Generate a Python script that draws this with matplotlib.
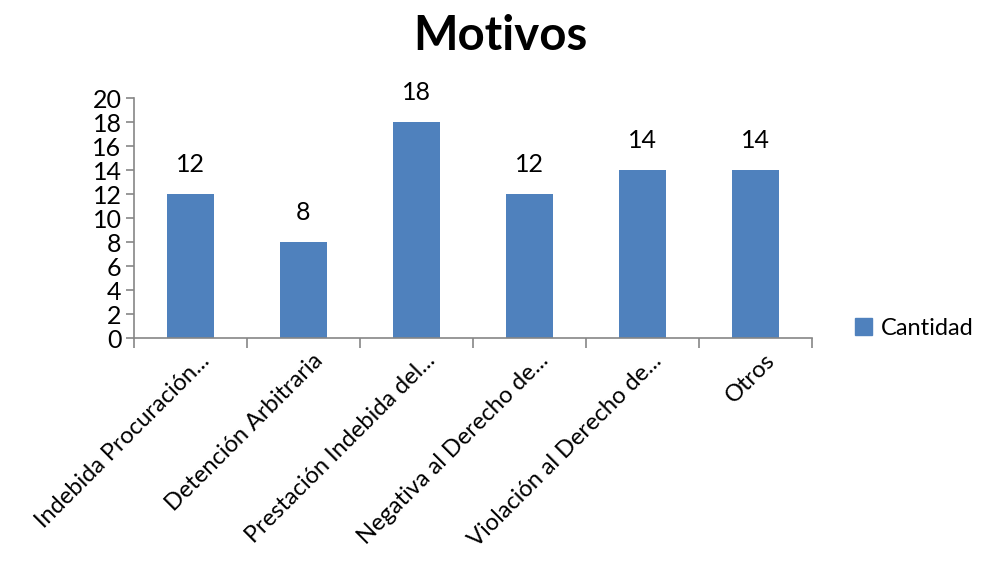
import matplotlib.pyplot as plt
from matplotlib.patches import Patch

categories = ["Indebida Procuración...", "Detención Arbitraria", "Prestación Indebida del...",
              "Negativa al Derecho de...", "Violación al Derecho de...", "Otros"]
cantidad = [12, 8, 18, 12, 14, 14]
yticks = list(range(0, 21, 2))

BLUE = "#4F81BD"
GRAY = "#868686"
plt.rcParams["font.family"] = ["Lato", "DejaVu Sans"]

fig = plt.figure(figsize=(9.81, 5.61), dpi=100)
ax = fig.add_axes([0.1366, 0.3975, 0.6911, 0.4278])

x = list(range(len(categories)))
bars = ax.bar(x, cantidad, width=0.41, color=BLUE, edgecolor="none", zorder=2)
for xi, v in zip(x, cantidad):
    ax.annotate(str(v), (xi, v), xytext=(0, 21), textcoords="offset points",
                ha="center", va="center", fontsize=18)

ax.set_xlim(-0.5, len(categories) - 0.5)
ax.set_ylim(0, 20)
ax.set_yticks(yticks)
ax.tick_params(axis="y", labelsize=18, length=6, color=GRAY, width=1.2, pad=3)
ax.set_yticklabels([str(t) for t in yticks])

# ticks at category boundaries, labels at centers
ax.set_xticks([i - 0.5 for i in range(len(categories) + 1)])
ax.set_xticklabels([])
ax.tick_params(axis="x", length=7, color=GRAY, width=1.2)
for xi, lab in zip(x, categories):
    ax.text(xi + 0.14, -1.6, lab, rotation=45, rotation_mode="anchor",
            ha="right", va="center", fontsize=17)

for s in ["top", "right"]:
    ax.spines[s].set_visible(False)
for s in ["left", "bottom"]:
    ax.spines[s].set_color(GRAY)
    ax.spines[s].set_linewidth(1.2)

fig.text(0.51, 0.935, "Motivos", ha="center", va="center", fontsize=34, fontweight="bold")

fig.legend(handles=[Patch(color=BLUE, label="Cantidad")], loc="center left",
           bbox_to_anchor=(0.85, 0.415), frameon=False, fontsize=17,
           handlelength=0.7, handleheight=0.7, handletextpad=0.4)

fig.savefig("out.png", dpi=100)
